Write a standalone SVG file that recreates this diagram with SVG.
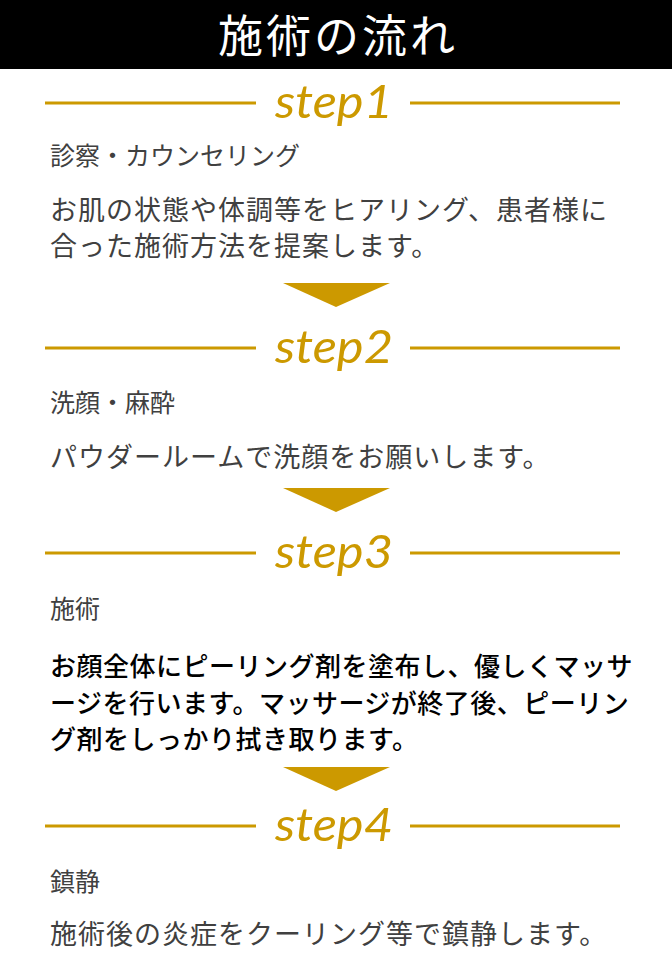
<svg xmlns="http://www.w3.org/2000/svg" width="672" height="972" viewBox="0 0 672 972">
<style>
.title{font-family:"Noto Sans CJK JP","Noto Sans",sans-serif;font-size:45px;fill:#ffffff;text-anchor:middle;letter-spacing:3px}
.step{font-family:"Lato","Open Sans",sans-serif;font-style:italic;font-size:46px;fill:#CC9900;text-anchor:middle}
.rule{stroke:#CC9900;stroke-width:3}
.head{font-family:"Noto Sans CJK JP",sans-serif;font-size:25px;fill:#404040}
.body{font-family:"Noto Sans CJK JP",sans-serif;font-size:27px;letter-spacing:1px;fill:#404040}
.bodyb{font-family:"Noto Sans CJK JP",sans-serif;font-size:26px;letter-spacing:0.5px;fill:#000000;font-weight:500}
.arrow{fill:#CC9900}
</style>
<rect x="0" y="0" width="672" height="69" fill="#000000"/>
<text class="title" x="338" y="53">施術の流れ</text>
<g id="step1">
<line class="rule" x1="45" y1="103" x2="256" y2="103"/>
<line class="rule" x1="410" y1="103" x2="620" y2="103"/>
<text class="step" x="334" y="118" textLength="118" lengthAdjust="spacingAndGlyphs">step1</text>
<text class="head" x="50" y="165">診察・カウンセリング</text>
<text class="body" x="50" y="220">お肌の状態や体調等をヒアリング、患者様に</text>
<text class="body" x="50" y="256">合った施術方法を提案します。</text>
</g>
<g id="step2">
<line class="rule" x1="45" y1="348" x2="256" y2="348"/>
<line class="rule" x1="410" y1="348" x2="620" y2="348"/>
<text class="step" x="334" y="363" textLength="118" lengthAdjust="spacingAndGlyphs">step2</text>
<text class="head" x="50" y="412">洗顔・麻酔</text>
<text class="body" x="50" y="467">パウダールームで洗顔をお願いします。</text>
</g>
<g id="step3">
<line class="rule" x1="45" y1="553" x2="256" y2="553"/>
<line class="rule" x1="410" y1="553" x2="620" y2="553"/>
<text class="step" x="334" y="568" textLength="118" lengthAdjust="spacingAndGlyphs">step3</text>
<text class="head" x="50" y="618">施術</text>
<text class="bodyb" x="50" y="676">お顔全体にピーリング剤を塗布し、優しくマッサ</text>
<text class="bodyb" x="50" y="713">ージを行います。マッサージが終了後、ピーリン</text>
<text class="bodyb" x="50" y="749">グ剤をしっかり拭き取ります。</text>
</g>
<g id="step4">
<line class="rule" x1="45" y1="826" x2="256" y2="826"/>
<line class="rule" x1="410" y1="826" x2="620" y2="826"/>
<text class="step" x="334" y="841" textLength="118" lengthAdjust="spacingAndGlyphs">step4</text>
<text class="head" x="50" y="891">鎮静</text>
<text class="body" x="50" y="944">施術後の炎症をクーリング等で鎮静します。</text>
</g>
<g id="connectors">
<polygon class="arrow" points="283,283 390,283 336,307"/>
<polygon class="arrow" points="283,488 390,488 336,512"/>
<polygon class="arrow" points="283,767 390,767 336,791"/>
</g>
</svg>
